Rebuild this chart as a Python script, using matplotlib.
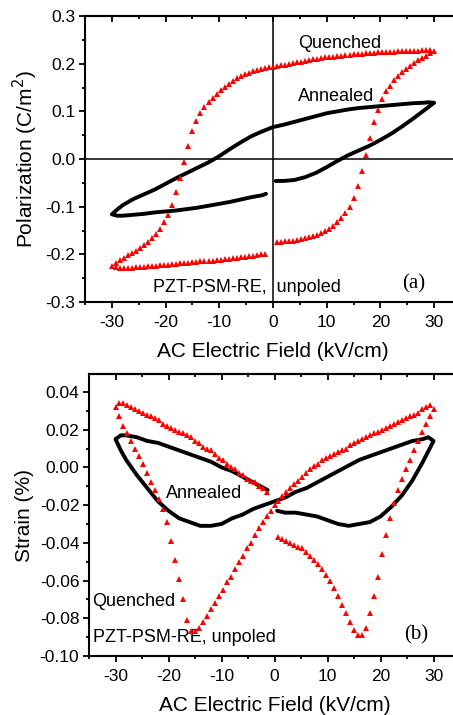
import matplotlib
matplotlib.use("Agg")
import matplotlib.pyplot as plt
from matplotlib.ticker import MultipleLocator

plt.rcParams['font.family'] = ['Liberation Sans', 'DejaVu Sans']
plt.rcParams['axes.unicode_minus'] = False

# ---- Quenched sample (red triangles), one marker per field step ----
# field sweep: 0 -> +30 -> -30 -> 0 (kV/cm)
E_q_up = [0.75, 1.5, 2.25, 3.0, 3.75, 4.5, 5.25, 6.0, 6.75, 7.5,
          8.25, 9.0, 9.75, 10.5, 11.25, 12.0, 12.75, 13.5, 14.25, 15.0,
          15.75, 16.5, 17.25, 18.0, 18.75, 19.5, 20.25, 21.0, 21.75, 22.5,
          23.25, 24.0, 24.75, 25.5, 26.25, 27.0, 27.75, 28.5, 29.25, 30.0]
E_q_down = [29.25, 28.5, 27.75, 27.0, 26.25, 25.5, 24.75, 24.0, 23.25, 22.5,
            21.75, 21.0, 20.25, 19.5, 18.75, 18.0, 17.25, 16.5, 15.75, 15.0,
            14.25, 13.5, 12.75, 12.0, 11.25, 10.5, 9.75, 9.0, 8.25, 7.5,
            6.75, 6.0, 5.25, 4.5, 3.75, 3.0, 2.25, 1.5, 0.75, 0.0,
            -0.75, -1.5, -2.25, -3.0, -3.75, -4.5, -5.25, -6.0, -6.75, -7.5,
            -8.25, -9.0, -9.75, -10.5, -11.25, -12.0, -12.75, -13.5, -14.25, -15.0,
            -15.75, -16.5, -17.25, -18.0, -18.75, -19.5, -20.25, -21.0, -21.75, -22.5,
            -23.25, -24.0, -24.75, -25.5, -26.25, -27.0, -27.75, -28.5, -29.25, -30.0]
E_q_back = [-29.25, -28.5, -27.75, -27.0, -26.25, -25.5, -24.75, -24.0, -23.25, -22.5,
            -21.75, -21.0, -20.25, -19.5, -18.75, -18.0, -17.25, -16.5, -15.75, -15.0,
            -14.25, -13.5, -12.75, -12.0, -11.25, -10.5, -9.75, -9.0, -8.25, -7.5,
            -6.75, -6.0, -5.25, -4.5, -3.75, -3.0, -2.25, -1.5]

P_q_up = [-0.175, -0.174, -0.173, -0.172, -0.171, -0.169, -0.168, -0.166, -0.164, -0.162,
          -0.159, -0.156, -0.152, -0.147, -0.140, -0.133, -0.124, -0.114, -0.100, -0.081,
          -0.056, -0.025, 0.009, 0.045, 0.077, 0.102, 0.125, 0.142, 0.154, 0.165,
          0.174, 0.182, 0.189, 0.195, 0.201, 0.207, 0.212, 0.217, 0.222, 0.227]
P_q_down = [0.228, 0.228, 0.228, 0.227, 0.227, 0.227, 0.226, 0.226, 0.226, 0.225,
            0.225, 0.224, 0.224, 0.224, 0.223, 0.223, 0.222, 0.221, 0.221, 0.220,
            0.219, 0.218, 0.217, 0.216, 0.215, 0.214, 0.213, 0.211, 0.210, 0.209,
            0.207, 0.206, 0.204, 0.203, 0.201, 0.200, 0.198, 0.197, 0.195, 0.194,
            0.192, 0.190, 0.188, 0.186, 0.184, 0.181, 0.178, 0.174, 0.169, 0.164,
            0.158, 0.152, 0.145, 0.137, 0.129, 0.120, 0.109, 0.096, 0.080, 0.058,
            0.028, -0.006, -0.040, -0.070, -0.096, -0.117, -0.133, -0.146, -0.157, -0.166,
            -0.174, -0.181, -0.187, -0.192, -0.197, -0.202, -0.207, -0.212, -0.218, -0.224]
P_q_back = [-0.227, -0.228, -0.228, -0.228, -0.228, -0.227, -0.227, -0.226, -0.225, -0.225,
            -0.224, -0.223, -0.222, -0.222, -0.221, -0.220, -0.219, -0.218, -0.218, -0.217,
            -0.216, -0.215, -0.214, -0.214, -0.213, -0.212, -0.211, -0.210, -0.209, -0.208,
            -0.207, -0.206, -0.205, -0.204, -0.203, -0.201, -0.200, -0.199]

S_q_up = [-0.037, -0.038, -0.039, -0.040, -0.041, -0.042, -0.043, -0.045, -0.047, -0.049,
          -0.051, -0.054, -0.057, -0.060, -0.064, -0.068, -0.073, -0.077, -0.082, -0.086,
          -0.089, -0.089, -0.085, -0.077, -0.068, -0.058, -0.046, -0.036, -0.027, -0.019,
          -0.012, -0.006, -0.001, 0.004, 0.009, 0.014, 0.019, 0.023, 0.027, 0.031]
S_q_down = [0.033, 0.032, 0.031, 0.029, 0.028, 0.027, 0.026, 0.025, 0.024, 0.023,
            0.022, 0.021, 0.020, 0.019, 0.018, 0.017, 0.016, 0.015, 0.014, 0.013,
            0.012, 0.010, 0.009, 0.008, 0.007, 0.006, 0.005, 0.004, 0.002, 0.001,
            -0.001, -0.003, -0.005, -0.007, -0.009, -0.011, -0.013, -0.015, -0.018, -0.020,
            -0.023, -0.026, -0.029, -0.032, -0.036, -0.040, -0.043, -0.047, -0.050, -0.054,
            -0.058, -0.061, -0.065, -0.068, -0.072, -0.075, -0.079, -0.082, -0.085, -0.087,
            -0.087, -0.081, -0.070, -0.059, -0.049, -0.039, -0.029, -0.022, -0.017, -0.012,
            -0.008, -0.003, 0.002, 0.006, 0.010, 0.014, 0.018, 0.022, 0.027, 0.032]
S_q_back = [0.034, 0.034, 0.033, 0.032, 0.031, 0.030, 0.029, 0.028, 0.027, 0.026,
            0.025, 0.023, 0.022, 0.021, 0.020, 0.019, 0.018, 0.017, 0.016, 0.014,
            0.013, 0.011, 0.010, 0.009, 0.007, 0.005, 0.004, 0.002, 0.000, -0.001,
            -0.003, -0.004, -0.006, -0.007, -0.008, -0.010, -0.011, -0.013]

# ---- Annealed sample (black line) ----
E_a_up = [0.5, 2, 4, 6, 8, 10, 12, 14, 16, 18, 20, 22, 24, 26, 28, 30]
E_a_down = [29, 28, 26, 24, 22, 20, 18, 16, 14, 12, 10, 8, 6, 4, 2, 0,
            -2, -4, -6, -8, -10, -12, -14, -16, -18, -20, -22, -24, -26, -28, -29, -30]
E_a_back = [-29, -28, -26, -24, -22, -20, -18, -16, -14, -12, -10, -8, -6, -4, -2, -1.3]

P_a_up = [-0.046, -0.046, -0.044, -0.038, -0.029, -0.017, -0.004, 0.008,
          0.018, 0.028, 0.040, 0.053, 0.068, 0.084, 0.101, 0.118]
P_a_down = [0.119, 0.118, 0.117, 0.115, 0.113, 0.111, 0.109, 0.107, 0.104, 0.100,
            0.096, 0.090, 0.084, 0.078, 0.072, 0.067, 0.058, 0.048, 0.035, 0.021,
            0.006, -0.007, -0.018, -0.029, -0.040, -0.052, -0.064, -0.074, -0.084,
            -0.097, -0.106, -0.116]
P_a_back = [-0.119, -0.119, -0.117, -0.115, -0.112, -0.110, -0.108, -0.105,
            -0.102, -0.098, -0.094, -0.090, -0.085, -0.080, -0.076, -0.073]

S_a_up = [-0.023, -0.024, -0.024, -0.025, -0.026, -0.028, -0.030, -0.031,
          -0.030, -0.029, -0.026, -0.021, -0.015, -0.007, 0.003, 0.014]
S_a_down = [0.016, 0.015, 0.014, 0.012, 0.010, 0.008, 0.006, 0.004, 0.001, -0.002,
            -0.005, -0.008, -0.011, -0.013, -0.016, -0.018, -0.020, -0.022, -0.025,
            -0.027, -0.030, -0.031, -0.031, -0.029, -0.027, -0.023, -0.018, -0.011,
            -0.004, 0.004, 0.009, 0.015]
S_a_back = [0.017, 0.017, 0.016, 0.014, 0.013, 0.011, 0.009, 0.007,
            0.005, 0.003, 0.000, -0.002, -0.005, -0.008, -0.011, -0.012]

E_q = E_q_up + E_q_down + E_q_back
P_q = P_q_up + P_q_down + P_q_back
S_q = S_q_up + S_q_down + S_q_back
E_a = E_a_up + E_a_down + E_a_back
P_a = P_a_up + P_a_down + P_a_back
S_a = S_a_up + S_a_down + S_a_back

fig = plt.figure(figsize=(4.53, 7.15), dpi=100)
ax1 = fig.add_axes([0.1876, 0.5776, 0.830, 0.400])
ax2 = fig.add_axes([0.1965, 0.0825, 0.819, 0.3944])


def style(ax):
    for s in ['left', 'bottom', 'top']:
        ax.spines[s].set_linewidth(1.5)
    ax.spines['right'].set_visible(False)
    ax.xaxis.set_major_locator(MultipleLocator(10))
    ax.xaxis.set_minor_locator(MultipleLocator(5))
    ax.tick_params(which='major', direction='out', length=4, width=1.3,
                   labelsize=12.5, pad=3)
    ax.tick_params(which='minor', direction='out', length=2.5, width=1.3)
    ax.tick_params(axis='x', which='major', pad=5)
    top = ax.secondary_xaxis('top')
    top.xaxis.set_major_locator(MultipleLocator(10))
    top.xaxis.set_minor_locator(MultipleLocator(5))
    top.tick_params(which='major', direction='in', length=4, width=1.3, labeltop=False)
    top.tick_params(which='minor', direction='in', length=2.5, width=1.3)
    top.spines['top'].set_linewidth(1.5)


# (a) polarization
ax1.axhline(0, color='black', lw=1.1, zorder=1)
ax1.axvline(0, color='black', lw=1.1, zorder=1)
ax1.plot(E_a, P_a, color='black', lw=2.8, solid_capstyle='round', zorder=3)
ax1.plot(E_q, P_q, linestyle='none', marker='^', color='red', ms=4.8, mew=0, zorder=4)
ax1.set_xlim(-35, 35)
ax1.set_ylim(-0.3, 0.3)
ax1.yaxis.set_minor_locator(MultipleLocator(0.05))
ax1.set_yticks([-0.3, -0.2, -0.1, 0.0, 0.1, 0.2, 0.3])
ax1.set_yticklabels(['-0.3', '-0.2', '-0.1', '0.0', '0.1', '0.2', '0.3'])
style(ax1)
ax1.set_xlabel('AC Electric Field (kV/cm)', fontsize=15, labelpad=9)
ax1.set_ylabel('Polarization (C/m$^2$)', fontsize=15, labelpad=4)
ax1.text(4.6, 0.242, 'Quenched', fontsize=13, va='center', ha='left')
ax1.text(4.6, 0.132, 'Annealed', fontsize=13, va='center', ha='left')
ax1.text(-22.3, -0.270, 'PZT-PSM-RE,  unpoled', fontsize=13, va='center', ha='left')
ax1.text(24.0, -0.262, '(a)', fontsize=15, va='center', ha='left',
         family=['Liberation Serif', 'DejaVu Serif'])

# (b) strain
ax2.plot(E_a, S_a, color='black', lw=2.8, solid_capstyle='round', zorder=3)
ax2.plot(E_q, S_q, linestyle='none', marker='^', color='red', ms=4.8, mew=0, zorder=4)
ax2.set_xlim(-35, 35)
ax2.set_ylim(-0.1, 0.0495)
ax2.set_yticks([-0.10, -0.08, -0.06, -0.04, -0.02, 0.00, 0.02, 0.04])
ax2.set_yticklabels(['-0.10', '-0.08', '-0.06', '-0.04', '-0.02', '0.00', '0.02', '0.04'])
ax2.yaxis.set_minor_locator(MultipleLocator(0.01))
style(ax2)
ax2.set_xlabel('AC Electric Field (kV/cm)', fontsize=15, labelpad=9)
ax2.set_ylabel('Strain (%)', fontsize=15, labelpad=4)
ax2.text(-20.5, -0.0136, 'Annealed', fontsize=13, va='center', ha='left')
ax2.text(-34.5, -0.0713, 'Quenched', fontsize=13, va='center', ha='left')
ax2.text(-34.3, -0.0904, 'PZT-PSM-RE, unpoled', fontsize=13, va='center', ha='left')
ax2.text(24.5, -0.0888, '(b)', fontsize=15, va='center', ha='left',
         family=['Liberation Serif', 'DejaVu Serif'])

fig.savefig('out.png', dpi=100)
